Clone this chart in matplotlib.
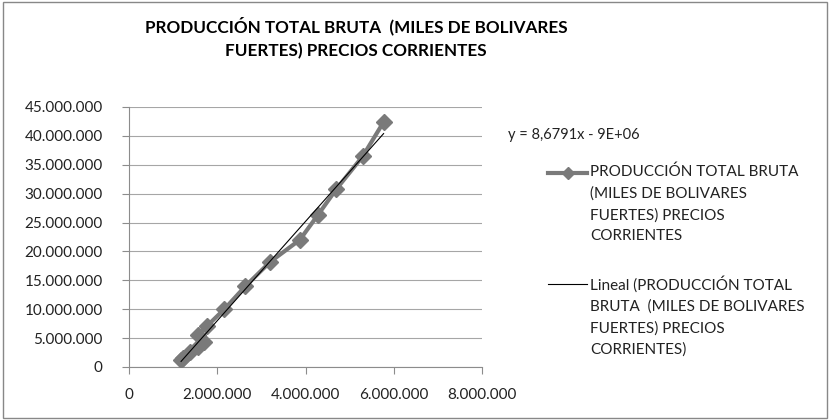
import numpy as np
import matplotlib
matplotlib.use("Agg")
import matplotlib.pyplot as plt
from matplotlib.lines import Line2D
from matplotlib.patches import Rectangle
from matplotlib.ticker import FuncFormatter

plt.rcParams['font.family'] = ['Lato', 'DejaVu Sans']

# data (x, y in units, yearly order)
x_vals = [1180000, 1230000, 1390000, 1570000, 1690000, 1570000, 1770000,
          2160000, 2640000, 3200000, 3870000, 4280000, 4700000, 5300000, 5770000]
y_vals = [1200000, 1600000, 2600000, 3500000, 4300000, 5500000, 7100000,
          10000000, 14000000, 18200000, 22000000, 26300000, 30800000, 36500000, 42400000]

title = "PRODUCCIÓN TOTAL BRUTA  (MILES DE BOLIVARES\nFUERTES) PRECIOS CORRIENTES"
series_label = "PRODUCCIÓN TOTAL BRUTA\n(MILES DE BOLIVARES\nFUERTES) PRECIOS\nCORRIENTES"
trend_label = "Lineal (PRODUCCIÓN TOTAL\nBRUTA  (MILES DE BOLIVARES\nFUERTES) PRECIOS\nCORRIENTES)"
equation = "y = 8,6791x - 9E+06"

W, H = 830, 420
fig = plt.figure(figsize=(W / 100, H / 100), dpi=100)
ax = fig.add_axes([129 / W, 1 - 367 / H, (482 - 129) / W, (367 - 107) / H])

gray = '#7a7a7a'
ax.plot(x_vals, y_vals, color=gray, lw=3, marker='D', ms=8.5, mfc=gray, mec=gray, zorder=3)

# linear trend
slope, icpt = np.polyfit(x_vals, y_vals, 1)
xt = np.array([min(x_vals), max(x_vals)])
ax.plot(xt, slope * xt + icpt, color='black', lw=0.8, zorder=4)

ax.set_xlim(0, 8000000)
ax.set_ylim(0, 45000000)
ax.set_xticks(np.arange(0, 8000001, 2000000))
ax.set_yticks(np.arange(0, 45000001, 5000000))
fmt = FuncFormatter(lambda v, p: f"{int(v):,}".replace(",", "."))
ax.xaxis.set_major_formatter(fmt)
ax.yaxis.set_major_formatter(fmt)
ax.grid(axis='y', color='#a6a6a6', lw=0.8)
ax.set_axisbelow(True)
for s in ['top', 'right']:
    ax.spines[s].set_visible(False)
for s in ['left', 'bottom']:
    ax.spines[s].set_color('#8c8c8c')
ax.tick_params(axis='both', colors='#8c8c8c', labelcolor='#222222', labelsize=11, length=5)
ax.tick_params(axis='y', pad=14)
ax.tick_params(axis='x', pad=10)

fig.text(356 / W, 1 - 38 / H, title, ha='center', va='center', fontsize=12.3,
         fontweight='bold', color='black', linespacing=1.6)

fig.text(508 / W, 1 - 135 / H, equation, ha='left', va='center', fontsize=10.5, color='#222222')

# legend drawn by hand so the handle sits on the first line like in the source
fig.add_artist(Line2D([548 / W, 587 / W], [1 - 173 / H] * 2, color=gray, lw=3,
                      transform=fig.transFigure))
fig.add_artist(Line2D([567.5 / W], [1 - 173 / H], color=gray, marker='D', ms=6,
                      transform=fig.transFigure))
fig.text(590 / W, 1 - 165 / H, series_label, ha='left', va='top', fontsize=11,
         color='#222222', linespacing=1.62)
fig.add_artist(Line2D([548 / W, 587 / W], [1 - 284 / H] * 2, color='black', lw=0.8,
                      transform=fig.transFigure))
fig.text(590 / W, 1 - 276 / H, trend_label, ha='left', va='top', fontsize=11,
         color='#222222', linespacing=1.62)

fig.add_artist(Rectangle((3 / W, 2 / H), (W - 6) / W, (H - 4) / H, fill=False,
                         edgecolor='#888888', lw=1, transform=fig.transFigure))

fig.savefig('out.png', dpi=100)
